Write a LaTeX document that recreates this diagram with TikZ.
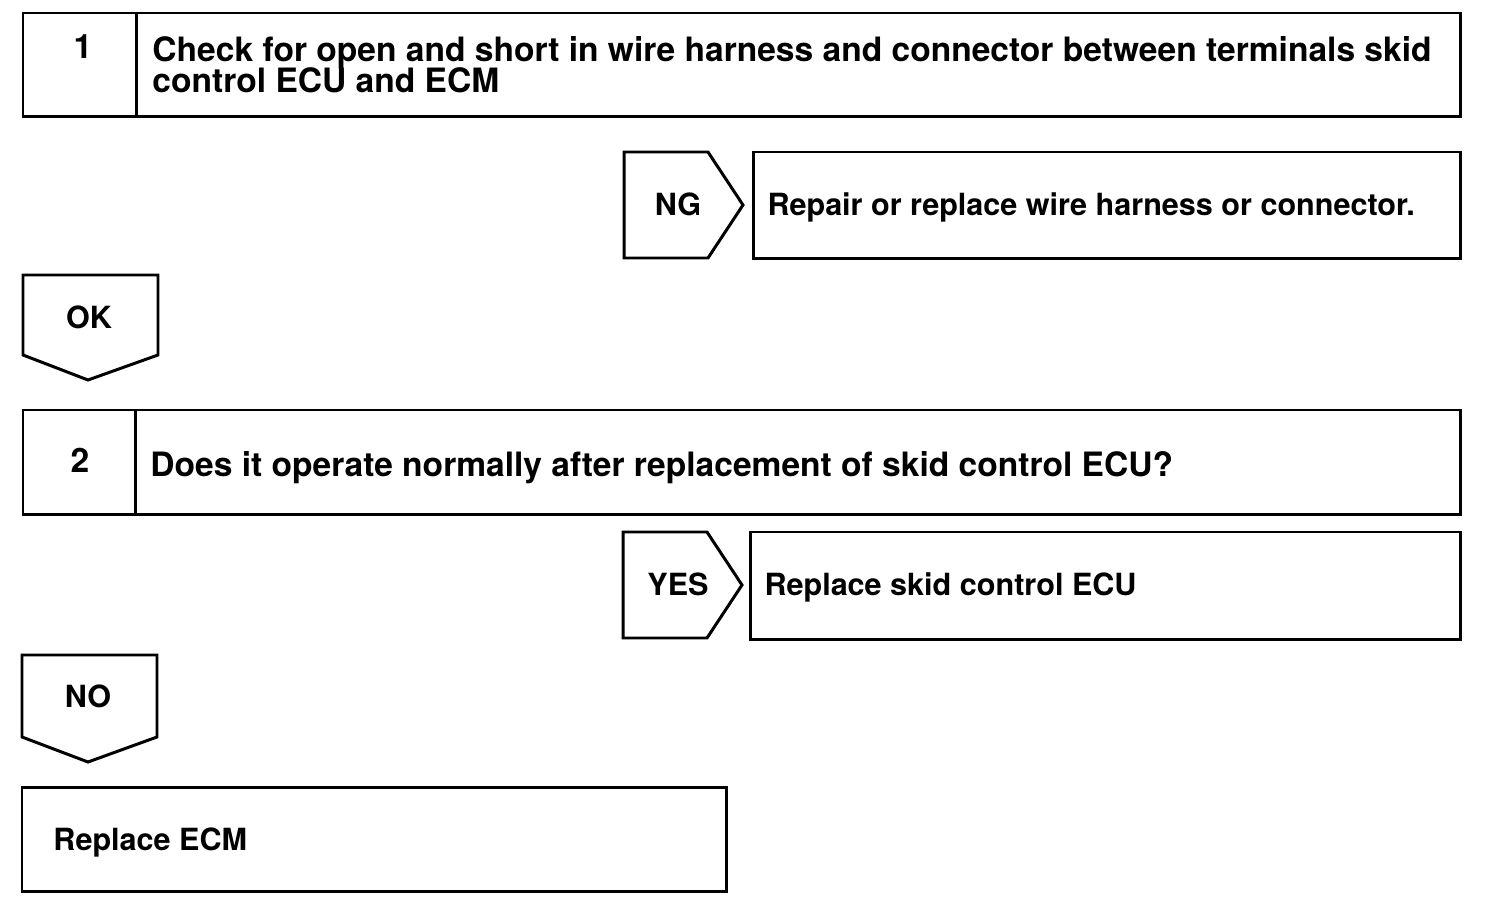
\documentclass[tikz,border=0pt]{standalone}
\usepackage{fontspec}
\setmainfont{TeX Gyre Heros}
\usetikzlibrary{positioning}
\tikzset{>=latex}
\setlength{\lineskiplimit}{-100pt}

\begin{document}
\begin{tikzpicture}[x=0.02cm, y=-0.02cm, line width=1.7pt,
	box/.style={draw, inner sep=0pt, outer sep=0pt, anchor=north west},
	big/.style={font=\bfseries\fontsize{19.1pt}{17.4pt}\selectfont, inner sep=0pt},
	small/.style={font=\bfseries\fontsize{17.4pt}{17.6pt}\selectfont, inner sep=0pt}]
	\useasboundingbox (0,0) rectangle (1504,912);
	% step 1
	\node[box, minimum width=2.28cm, minimum height=2.08cm] (num1) at (23,13) {};
	\node[box, minimum width=26.48cm, minimum height=2.08cm, right=0pt of num1] (step1) {};
	\node[big, anchor=base] (n1) at (83,59) {1};
	\node[big, anchor=north west, align=left] (t1) at (151,35) {Check for open and short in wire harness and connector between terminals skid\\control ECU and ECM};
	% NG
	\draw (624,152) -- (708,152) -- (743,205) -- (708,258) -- (624,258) -- cycle;
	\node[small, anchor=base] (ng) at (678,215) {NG};
	\node[box, minimum width=14.16cm, minimum height=2.14cm] (fix1) at (753,152) {};
	\node[small, anchor=base west] (fix1txt) at (766,215) {Repair or replace wire harness or connector.};
	% OK
	\draw (23,275) -- (158,275) -- (158,355) -- (88,380) -- (23,355) -- cycle;
	\node[small, anchor=base] (ok) at (89,328) {OK};
	% step 2
	\node[box, minimum width=2.26cm, minimum height=2.1cm] (num2) at (23,410) {};
	\node[box, minimum width=26.5cm, minimum height=2.1cm, right=0pt of num2] (step2) {};
	\node[big, anchor=base] (n2) at (80,472) {2};
	\node[big, anchor=base west] (t2) at (149,476) {Does it operate normally after replacement of skid control ECU?};
	% YES
	\draw (623,532) -- (707,532) -- (742,585) -- (707,638) -- (623,638) -- cycle;
	\node[small, anchor=base] (yes) at (678,595) {YES};
	\node[box, minimum width=14.22cm, minimum height=2.16cm] (fix2) at (750,532) {};
	\node[small, anchor=base west] (fix2txt) at (763,595) {Replace skid control ECU};
	% NO
	\draw (22,655) -- (157,655) -- (157,737) -- (88,762) -- (22,737) -- cycle;
	\node[small, anchor=base] (no) at (88,707) {NO};
	\node[box, minimum width=14.1cm, minimum height=2.1cm] (fix3) at (22,787) {};
	\node[small, anchor=base west] (fix3txt) at (52,850) {Replace ECM};
\end{tikzpicture}
\end{document}
